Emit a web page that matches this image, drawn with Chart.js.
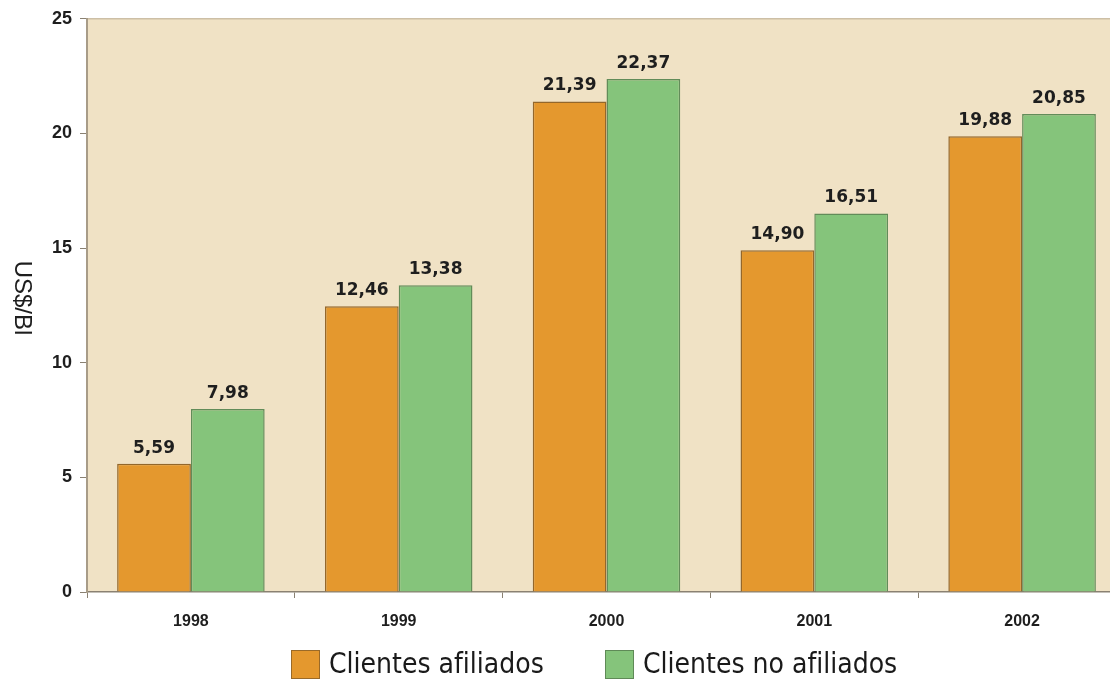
<!DOCTYPE html>
<html lang="es">
<head>
<meta charset="utf-8">
<title>Clientes afiliados vs no afiliados</title>
<script src="https://cdn.jsdelivr.net/npm/chart.js@4.4.1/dist/chart.umd.min.js"></script>
<style>
    html, body { margin: 0; padding: 0; background: #ffffff; overflow: hidden; }
    #wrap { position: relative; width: 1110px; height: 683px; overflow: hidden; }
    #grafico { position: absolute; left: 0; top: 0; }
    .leyenda-item { position: absolute; top: 647px; display: flex; align-items: center; }
    .leyenda-caja { width: 29px; height: 29px; box-sizing: border-box; }
    .leyenda-texto {
        margin-left: 9px;
        font-family: "Liberation Sans Narrow", "DejaVu Sans Condensed", "Liberation Sans", sans-serif;
        font-size: 28px;
        color: #1a1a1a;
        line-height: 34px;
    }
</style>
</head>
<body>
<div id="wrap">
    <canvas id="grafico" width="1126" height="683"></canvas>
    <div class="leyenda-item" style="left: 291px;">
        <div class="leyenda-caja" style="background:#e4982e; border:1.5px solid #9a6a28;"></div>
        <span class="leyenda-texto">Clientes afiliados</span>
    </div>
    <div class="leyenda-item" style="left: 605px;">
        <div class="leyenda-caja" style="background:#85c47b; border:1.5px solid #5f8a57;"></div>
        <span class="leyenda-texto">Clientes no afiliados</span>
    </div>
</div>
<script>
// Datos del gráfico
const anios = ['1998', '1999', '2000', '2001', '2002'];
const afiliados = [5.59, 12.46, 21.39, 14.90, 19.88];
const noAfiliados = [7.98, 13.38, 22.37, 16.51, 20.85];
const ticksY = [0, 5, 10, 15, 20, 25];

// Fondo beige del área de trazado
const fondoArea = {
    id: 'fondoArea',
    beforeDraw(chart) {
        const { ctx, chartArea: a } = chart;
        ctx.save();
        ctx.fillStyle = '#f0e2c5';
        ctx.fillRect(a.left, a.top, a.right - a.left, a.bottom - a.top);
        ctx.strokeStyle = '#cdbfa6';
        ctx.lineWidth = 1.5;
        ctx.beginPath();
        ctx.moveTo(a.left, a.top);
        ctx.lineTo(a.right, a.top);
        ctx.stroke();
        ctx.restore();
    }
};

// Etiquetas de valor encima de cada barra
const etiquetasValor = {
    id: 'etiquetasValor',
    afterDatasetsDraw(chart) {
        const { ctx } = chart;
        ctx.save();
        ctx.font = 'bold 17px "DejaVu Sans", sans-serif';
        ctx.fillStyle = '#1e1e1e';
        ctx.textAlign = 'center';
        ctx.textBaseline = 'bottom';
        chart.data.datasets.forEach((ds, i) => {
            chart.getDatasetMeta(i).data.forEach((bar, j) => {
                const txt = ds.data[j].toFixed(2).replace('.', ',');
                ctx.fillText(txt, bar.x, bar.y - 7);
            });
        });
        ctx.restore();
    }
};

// Título del eje Y girado en sentido horario
const tituloEjeY = {
    id: 'tituloEjeY',
    afterDraw(chart) {
        const { ctx } = chart;
        ctx.save();
        ctx.translate(22, 298);
        ctx.rotate(Math.PI / 2);
        ctx.font = '24px "Liberation Sans", Arial, sans-serif';
        ctx.fillStyle = '#1e1e1e';
        ctx.textAlign = 'center';
        ctx.textBaseline = 'middle';
        ctx.fillText('US$/Bl', 0, 0);
        ctx.restore();
    }
};

new Chart(document.getElementById('grafico'), {
    type: 'bar',
    data: {
        labels: anios,
        datasets: [{
            label: 'Clientes afiliados',
            data: afiliados,
            backgroundColor: '#e4982e',
            borderColor: '#93672b',
            borderWidth: 1.5,
        }, {
            label: 'Clientes no afiliados',
            data: noAfiliados,
            backgroundColor: '#85c47b',
            borderColor: '#628c59',
            borderWidth: 1.5,
        }],
    },
    options: {
        responsive: false,
        animation: false,
        devicePixelRatio: 1,
        layout: { padding: { top: 18, right: 0, bottom: 0, left: 0 } },
        datasets: {
            bar: { categoryPercentage: 0.71, barPercentage: 1.0 }
        },
        plugins: {
            legend: { display: false },
            tooltip: { enabled: false },
        },
        scales: {
            x: {
                afterFit(scale) { scale.height = 91; },
                grid: {
                    drawOnChartArea: false,
                    drawTicks: true,
                    tickLength: 6,
                    color: '#8a8172',
                    offset: true,
                },
                border: { display: true, color: '#8a8172', width: 1.5 },
                ticks: {
                    color: '#1e1e1e',
                    padding: 14,
                    font: { family: '"Liberation Sans", Arial, sans-serif', size: 16, weight: 'bold' },
                },
            },
            y: {
                min: 0,
                max: 25,
                afterFit(scale) { scale.width = 87; },
                afterBuildTicks(scale) { scale.ticks = ticksY.map(v => ({ value: v })); },
                grid: {
                    drawOnChartArea: false,
                    drawTicks: true,
                    tickLength: 7,
                    color: '#8a8172',
                },
                border: { display: true, color: '#a89c88', width: 2 },
                ticks: {
                    color: '#1e1e1e',
                    padding: 8,
                    font: { family: '"Liberation Sans", Arial, sans-serif', size: 18, weight: 'bold' },
                },
            },
        },
    },
    plugins: [fondoArea, etiquetasValor, tituloEjeY],
});
</script>
</body>
</html>
